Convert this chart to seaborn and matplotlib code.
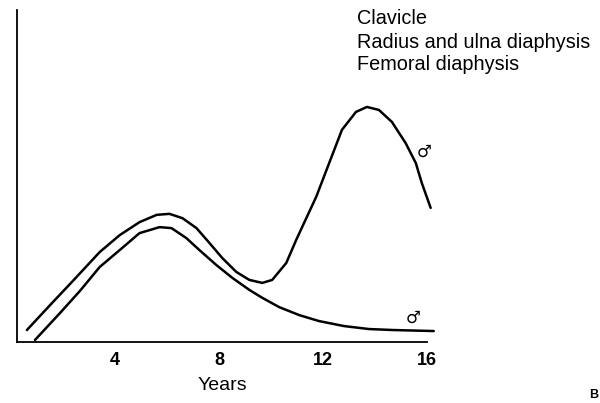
import matplotlib
matplotlib.use("Agg")
import matplotlib.pyplot as plt
import seaborn as sns
import pandas as pd

# Values (x in years, y in arbitrary velocity units)
upper_x = [0.62, 1.51, 2.46, 3.42, 4.19, 4.95, 5.61, 6.10, 6.60, 7.14, 7.64, 8.13,
           8.67, 9.17, 9.67, 10.05, 10.59, 10.97, 11.20, 11.74, 12.24, 12.73,
           13.27, 13.69, 14.15, 14.65, 15.18, 15.57, 15.80, 16.14]
upper_y = [0.36, 1.11, 1.90, 2.71, 3.22, 3.61, 3.83, 3.86, 3.73, 3.43, 2.98, 2.53,
           2.11, 1.87, 1.78, 1.87, 2.38, 3.07, 3.46, 4.37, 5.39, 6.39,
           6.93, 7.08, 6.99, 6.63, 5.99, 5.39, 4.79, 4.04]
lower_x = [0.93, 1.89, 2.66, 3.42, 4.19, 4.95, 5.72, 6.18, 6.75, 7.25, 7.90, 8.52,
           9.17, 9.67, 10.32, 11.09, 11.85, 12.81, 13.77, 14.72, 16.26]
lower_y = [0.06, 0.87, 1.54, 2.26, 2.77, 3.28, 3.46, 3.43, 3.13, 2.77, 2.32, 1.93,
           1.57, 1.33, 1.05, 0.81, 0.63, 0.48, 0.39, 0.36, 0.33]
xticks = [4, 8, 12, 16]
legend_lines = ["Clavicle", "Radius and ulna diaphysis", "Femoral diaphysis"]
symbol = "\u2642"

sns.set_style("white")
plt.rcParams['font.family'] = ['Liberation Sans', 'DejaVu Sans']
plt.rcParams['text.color'] = 'black'
plt.rcParams['axes.labelcolor'] = 'black'
plt.rcParams['xtick.color'] = 'black'

df = pd.concat([
    pd.DataFrame({"x": upper_x, "y": upper_y, "curve": "upper"}),
    pd.DataFrame({"x": lower_x, "y": lower_y, "curve": "lower"}),
])

fig = plt.figure(figsize=(6.0, 4.03), dpi=100)
ax = fig.add_axes([17/600, 1-342/403, (427-17)/600, (342-10)/403])

sns.lineplot(data=df, x="x", y="y", hue="curve", units="curve", estimator=None,
             sort=False, palette={"upper": "black", "lower": "black"},
             linewidth=1.8, legend=False, ax=ax, clip_on=False)
for ln in ax.lines:
    ln.set_solid_joinstyle('round')
    ln.set_solid_capstyle('round')

ax.set_xlim(0.24, 15.95)
ax.set_ylim(0, 10)
ax.set_xticks(xticks)
ax.set_xticklabels([str(t) for t in xticks], fontsize=13, fontweight='bold', color='black')
ax.set_yticks([])
ax.tick_params(axis='x', length=0, pad=7)
ax.set_xlabel("Years", fontsize=14, labelpad=6, color='black')
ax.set_ylabel("")
sns.despine(ax=ax)
for s in ["left", "bottom"]:
    ax.spines[s].set_color("black")
    ax.spines[s].set_linewidth(1.3)

ys = [18, 42, 64]
for t, yp in zip(legend_lines, ys):
    fig.text(357/600, 1-yp/403, t, fontsize=14.3, va='center', ha='left', color='black')

fig.text(424/600, 1-152/403, symbol, fontsize=12, ha='center', va='center',
         family=['DejaVu Sans'], color='black')
fig.text(413/600, 1-318/403, symbol, fontsize=12, ha='center', va='center',
         family=['DejaVu Sans'], color='black')
fig.text(598/600, 1-401/403, "B", fontsize=9, fontweight='bold', ha='right', va='bottom',
         color='black')

fig.savefig("out.png", dpi=100)
